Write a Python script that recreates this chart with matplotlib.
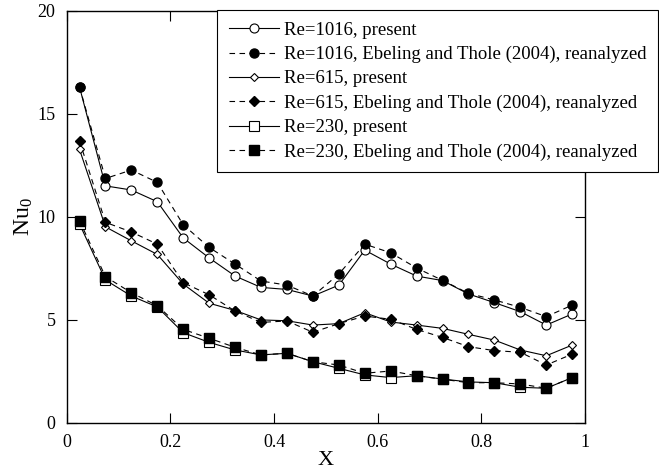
import numpy as np
import matplotlib
matplotlib.use('Agg')
import matplotlib.pyplot as plt

plt.rcParams['font.family'] = 'Liberation Serif'
plt.rcParams['mathtext.fontset'] = 'custom'
plt.rcParams['mathtext.rm'] = 'Liberation Serif'

x = np.arange(0.025, 1.0, 0.05)

re1016_present = [16.3, 11.5, 11.3, 10.73, 8.97, 8.0, 7.12, 6.57, 6.47, 6.15,
                  6.68, 8.38, 7.70, 7.12, 6.9, 6.25, 5.83, 5.39, 4.74, 5.28]
re1016_ebeling = [16.3, 11.86, 12.27, 11.67, 9.61, 8.51, 7.70, 6.88, 6.68, 6.15,
                  7.22, 8.67, 8.25, 7.51, 6.91, 6.28, 5.96, 5.60, 5.15, 5.71]
re615_present = [13.27, 9.51, 8.83, 8.17, 6.73, 5.80, 5.45, 4.99, 4.95, 4.74,
                 4.81, 5.34, 4.89, 4.74, 4.58, 4.29, 4.01, 3.53, 3.25, 3.77]
re615_ebeling = [13.68, 9.73, 9.26, 8.67, 6.80, 6.21, 5.42, 4.87, 4.94, 4.39,
                 4.81, 5.18, 5.02, 4.53, 4.14, 3.69, 3.50, 3.42, 2.80, 3.33]
re230_present = [9.65, 6.93, 6.15, 5.62, 4.37, 3.90, 3.53, 3.29, 3.37, 2.96,
                 2.64, 2.32, 2.19, 2.28, 2.12, 1.98, 1.94, 1.72, 1.67, 2.19]
re230_ebeling = [9.81, 7.09, 6.31, 5.68, 4.53, 4.10, 3.66, 3.29, 3.37, 2.96,
                 2.80, 2.40, 2.51, 2.28, 2.11, 1.94, 1.94, 1.88, 1.67, 2.19]

fig = plt.figure(figsize=(6.59, 4.72), dpi=100)
ax = fig.add_axes([0.101, 0.1045, 0.787, 0.8725])

lw = 0.8
dash = (0, (5, 4))
ax.plot(x, re1016_present, '-', color='k', lw=lw, marker='o', ms=6.5,
        mfc='white', mec='k', mew=0.8, label='Re=1016, present')
ax.plot(x, re1016_ebeling, linestyle=dash, color='k', lw=lw, marker='o', ms=6.5,
        mfc='k', mec='k', label='Re=1016, Ebeling and Thole (2004), reanalyzed')
ax.plot(x, re615_present, '-', color='k', lw=lw, marker='D', ms=4.5,
        mfc='white', mec='k', mew=0.8, label='Re=615, present')
ax.plot(x, re615_ebeling, linestyle=dash, color='k', lw=lw, marker='D', ms=5,
        mfc='k', mec='k', label='Re=615, Ebeling and Thole (2004), reanalyzed')
ax.plot(x, re230_present, '-', color='k', lw=lw, marker='s', ms=6.5,
        mfc='white', mec='k', mew=0.8, label='Re=230, present')
ax.plot(x, re230_ebeling, linestyle=dash, color='k', lw=lw, marker='s', ms=7,
        mfc='k', mec='k', label='Re=230, Ebeling and Thole (2004), reanalyzed')

ax.set_xlim(0, 1)
ax.set_ylim(0, 20)
ax.set_xticks([0, 0.2, 0.4, 0.6, 0.8, 1])
ax.set_xticklabels(['0', '0.2', '0.4', '0.6', '0.8', '1'])
ax.set_yticks([0, 5, 10, 15, 20])
ax.tick_params(direction='in', top=True, right=True, length=7, width=0.8,
               labelsize=13, pad=8)
for s in ax.spines.values():
    s.set_linewidth(1.0)

ax.set_xlabel('X', fontsize=16, labelpad=0)
ax.set_ylabel(r'$\mathrm{Nu_0}$', fontsize=17, labelpad=2)

leg = ax.legend(loc='upper right', bbox_to_anchor=(0.9985, 0.978),
                bbox_transform=fig.transFigure, fontsize=13.5,
                fancybox=False, framealpha=1, edgecolor='k',
                handlelength=2.7, handletextpad=0.27, borderpad=0.6,
                labelspacing=0.38, borderaxespad=0)
leg.get_frame().set_linewidth(0.8)

fig.savefig('out.png', dpi=100)
